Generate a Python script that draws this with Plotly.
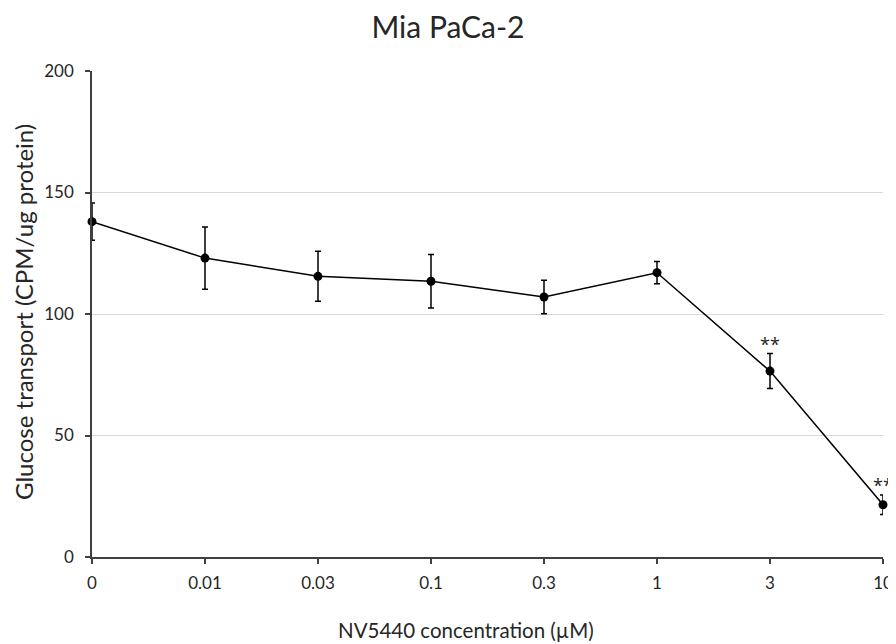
import plotly.graph_objects as go

categories = ["0", "0.01", "0.03", "0.1", "0.3", "1", "3", "10"]
values = [138, 123, 115.5, 113.5, 107, 117, 76.5, 21.5]
errors = [7.7, 12.8, 10.3, 11, 6.9, 4.6, 7.2, 4]
significance = ["", "", "", "", "", "", "**", "**"]

y_ticks = [0, 50, 100, 150, 200]

FONT = "Lato, Open Sans, sans-serif"
TXT = "#262626"

fig = go.Figure()
fig.add_trace(go.Scatter(
    x=list(range(len(categories))), y=values,
    mode="lines+markers",
    line=dict(color="black", width=1.5),
    marker=dict(color="black", size=9),
    error_y=dict(type="data", array=errors, visible=True, color="black", thickness=1.5, width=3),
    cliponaxis=False,
    showlegend=False,
))

for i, (v, e, s) in enumerate(zip(values, errors, significance)):
    if s:
        fig.add_annotation(x=i, y=v + e, text=s, showarrow=False, yanchor="bottom",
                           yshift=-4, font=dict(family="Open Sans", size=18, color=TXT))

# axis titles
fig.add_annotation(text="Glucose transport (CPM/ug protein)", xref="paper", yref="paper",
                   x=0, y=0.5, xanchor="center", yanchor="middle", xshift=-69, yshift=2, textangle=-90,
                   showarrow=False, font=dict(family=FONT, size=24, color=TXT))
fig.add_annotation(text="NV5440 concentration (µM)", xref="paper", yref="paper",
                   x=0.5, y=0, xanchor="center", yanchor="middle", xshift=-22, yshift=-73,
                   showarrow=False, font=dict(family=FONT, size=20.5, color=TXT))

fig.update_layout(
    width=888, height=636,
    margin=dict(l=84, r=13, t=63, b=87, autoexpand=False),
    paper_bgcolor="white", plot_bgcolor="white",
    title=dict(text="Mia PaCa-2", x=0.4955, xanchor="center", y=0.9686, yanchor="middle",
               font=dict(family=FONT, size=30, color=TXT)),
    font=dict(family=FONT, size=17, color=TXT),
)
fig.update_xaxes(
    tickmode="array", tickvals=list(range(len(categories))), ticktext=categories,
    range=[0, len(categories) - 1],
    showline=True, linecolor="#404040", linewidth=1.5,
    ticks="outside", ticklen=5, tickcolor="#404040", tickwidth=1.5, ticklabelstandoff=5,
    showgrid=False, zeroline=False, automargin=False,
    tickfont=dict(family=FONT, size=17, color=TXT),
)
fig.update_yaxes(
    range=[0, 200], tickvals=y_ticks,
    showline=True, linecolor="#404040", linewidth=1.5,
    ticks="outside", ticklen=5, tickcolor="#404040", tickwidth=1.5, ticklabelstandoff=8,
    showgrid=True, gridcolor="#d9d9d9", gridwidth=1, zeroline=False, automargin=False,
    tickfont=dict(family=FONT, size=17, color=TXT),
)

fig.write_html("out.html")
